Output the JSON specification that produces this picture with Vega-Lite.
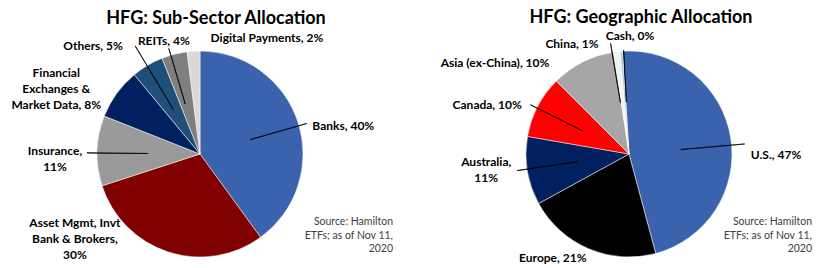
{
  "$schema": "https://vega.github.io/schema/vega-lite/v6.json",
  "padding": {"top": 8, "left": 0, "right": 0, "bottom": 0},
  "background": "white",
  "config": {"view": {"stroke": null}, "font": "Lato", "concat": {"spacing": 34},
    "text": {"fontWeight": "bold", "fontSize": 12, "lineBreak": "\n", "lineHeight": 16, "align": "center", "baseline": "middle", "color": "#000"}},
  "resolve": {"scale": {"color": "independent", "theta": "independent"}},
  "datasets": {
    "sector": [
      {"k": "Banks", "label": "Banks, 40%", "v": 40, "o": 1},
      {"k": "Asset Mgmt", "label": "Asset Mgmt, Invt\nBank & Brokers,\n30%", "v": 30, "o": 2},
      {"k": "Insurance", "label": "Insurance,\n11%", "v": 11, "o": 3},
      {"k": "Financial Exchanges", "label": "Financial\nExchanges &\nMarket Data, 8%", "v": 8, "o": 4},
      {"k": "Others", "label": "Others, 5%", "v": 5, "o": 5},
      {"k": "REITs", "label": "REITs, 4%", "v": 4, "o": 6},
      {"k": "Digital Payments", "label": "Digital Payments, 2%", "v": 2, "o": 7}
    ],
    "geo": [
      {"k": "U.S.", "label": "U.S., 47%", "v": 46.8, "o": 1},
      {"k": "Europe", "label": "Europe, 21%", "v": 21.2, "o": 2},
      {"k": "Australia", "label": "Australia,\n11%", "v": 10.7, "o": 3},
      {"k": "Canada", "label": "Canada, 10%", "v": 9.8, "o": 4},
      {"k": "Asia (ex-China)", "label": "Asia (ex-China), 10%", "v": 10.1, "o": 5},
      {"k": "China", "label": "China, 1%", "v": 1.0, "o": 6},
      {"k": "Cash", "label": "Cash, 0%", "v": 0.4, "o": 7}
    ]
  },
  "hconcat": [
    {
      "title": {"text": "HFG: Sub-Sector Allocation", "fontSize": 18, "fontWeight": "bold", "color": "#000", "anchor": "middle", "dx": 16, "offset": 3.5},
      "vconcat": [
        {
          "width": 400,
          "height": 206,
          "data": {"name": "sector"},
          "transform": [{"stack": "v", "groupby": [], "sort": [{"field": "o", "order": "ascending"}], "as": ["v0", "v1"]}],
          "title": {"text": ["Source: Hamilton", "ETFs; as of Nov 11,", "2020"], "orient": "bottom", "anchor": "end", "align": "right", "frame": "group", "fontSize": 10.5, "fontWeight": "normal", "color": "#404040", "offset": -44, "dx": -7, "lineHeight": 13.5},
          "encoding": {
            "theta": {"field": "v0", "type": "quantitative", "scale": {"domain": [0, 100]}}
          },
          "layer": [
            {"mark": {"type": "arc", "outerRadius": 103, "stroke": "#ffffff", "strokeWidth": 0.5},
             "encoding": {"theta2": {"field": "v1"},
               "color": {"field": "k", "type": "nominal", "legend": null,
                 "scale": {"domain": ["Banks", "Asset Mgmt", "Insurance", "Financial Exchanges", "Others", "REITs", "Digital Payments"],
                           "range": ["#3B62AD", "#800000", "#9A9A9A", "#002060", "#1F4E79", "#7F7F7F", "#D9D9D9"]}}}},
            {"transform": [{"filter": "datum.k === 'Banks'"}],
             "mark": {"type": "arc", "outerRadius": 111, "innerRadius": 52, "thetaOffset": 1.2915, "theta2Offset": 1.2933, "fill": "#000", "stroke": "#000", "strokeWidth": 0.7},
             "encoding": {"theta2": {"field": "v0"}}},
            {"transform": [{"filter": "datum.k === 'Insurance'"}],
             "mark": {"type": "arc", "outerRadius": 113, "innerRadius": 52, "thetaOffset": 0.3229, "theta2Offset": 0.3246, "fill": "#000", "stroke": "#000", "strokeWidth": 0.7},
             "encoding": {"theta2": {"field": "v0"}}},
            {"transform": [{"filter": "datum.k === 'Others'"}],
             "mark": {"type": "arc", "outerRadius": 126, "innerRadius": 52, "thetaOffset": 0.1501, "theta2Offset": 0.1518, "fill": "#000", "stroke": "#000", "strokeWidth": 0.7},
             "encoding": {"theta2": {"field": "v0"}}},
            {"transform": [{"filter": "datum.k === 'REITs'"}],
             "mark": {"type": "arc", "outerRadius": 110, "innerRadius": 52, "thetaOffset": 0.089, "theta2Offset": 0.0908, "fill": "#000", "stroke": "#000", "strokeWidth": 0.7},
             "encoding": {"theta2": {"field": "v0"}}},
            {"transform": [{"filter": "datum.k === 'Banks'"}],
             "mark": {"type": "text", "radius": 146, "thetaOffset": 1.377}, "encoding": {"text": {"field": "label"}}},
            {"transform": [{"filter": "datum.k === 'Asset Mgmt'"}],
             "mark": {"type": "text", "radius": 143, "thetaOffset": 1.693}, "encoding": {"text": {"field": "label"}}},
            {"transform": [{"filter": "datum.k === 'Insurance'"}],
             "mark": {"type": "text", "radius": 145, "thetaOffset": 0.335}, "encoding": {"text": {"field": "label"}}},
            {"transform": [{"filter": "datum.k === 'Financial Exchanges'"}],
             "mark": {"type": "text", "radius": 165, "thetaOffset": 0.136}, "encoding": {"text": {"field": "label"}}},
            {"transform": [{"filter": "datum.k === 'Others'"}],
             "mark": {"type": "text", "radius": 152, "thetaOffset": -0.089}, "encoding": {"text": {"field": "label"}}},
            {"transform": [{"filter": "datum.k === 'REITs'"}],
             "mark": {"type": "text", "radius": 119, "thetaOffset": 0.068}, "encoding": {"text": {"field": "label"}}},
            {"transform": [{"filter": "datum.k === 'Digital Payments'"}],
             "mark": {"type": "text", "radius": 134, "thetaOffset": 0.649}, "encoding": {"text": {"field": "label"}}}
          ]
        }
      ]
    },
    {
      "title": {"text": "HFG: Geographic Allocation", "fontSize": 18, "fontWeight": "bold", "color": "#000", "anchor": "middle", "dx": 12, "offset": 3.5},
      "vconcat": [
        {
          "width": 390,
          "height": 206,
          "data": {"name": "geo"},
          "transform": [{"stack": "v", "groupby": [], "sort": [{"field": "o", "order": "ascending"}], "as": ["v0", "v1"]}],
          "title": {"text": ["Source: Hamilton", "ETFs; as of Nov 11,", "2020"], "orient": "bottom", "anchor": "end", "align": "right", "frame": "group", "fontSize": 10.5, "fontWeight": "normal", "color": "#404040", "offset": -47, "dx": -12, "lineHeight": 13.5},
          "encoding": {
            "theta": {"field": "v0", "type": "quantitative", "scale": {"domain": [0, 100], "range": [-0.0611, 6.2221]}}
          },
          "layer": [
            {"mark": {"type": "arc", "outerRadius": 103, "stroke": "#ffffff", "strokeWidth": 0.5},
             "encoding": {"theta2": {"field": "v1"},
               "color": {"field": "k", "type": "nominal", "legend": null,
                 "scale": {"domain": ["U.S.", "Europe", "Australia", "Canada", "Asia (ex-China)", "China", "Cash"],
                           "range": ["#3B62AD", "#000000", "#002060", "#FF0000", "#A6A6A6", "#F2F2F2", "#B4C7E7"]}}}},
            {"transform": [{"filter": "datum.k === 'U.S.'"}],
             "mark": {"type": "arc", "outerRadius": 116, "innerRadius": 52, "thetaOffset": 1.5446, "theta2Offset": 1.5464, "fill": "#000", "stroke": "#000", "strokeWidth": 0.7},
             "encoding": {"theta2": {"field": "v0"}}},
            {"transform": [{"filter": "datum.k === 'Australia'"}],
             "mark": {"type": "arc", "outerRadius": 113, "innerRadius": 52, "thetaOffset": 0.3526, "theta2Offset": 0.3543, "fill": "#000", "stroke": "#000", "strokeWidth": 0.7},
             "encoding": {"theta2": {"field": "v0"}}},
            {"transform": [{"filter": "datum.k === 'Canada'"}],
             "mark": {"type": "arc", "outerRadius": 110, "innerRadius": 52, "thetaOffset": 0.2911, "theta2Offset": 0.2929, "fill": "#000", "stroke": "#000", "strokeWidth": 0.7},
             "encoding": {"theta2": {"field": "v0"}}},
            {"transform": [{"filter": "datum.k === 'China'"}],
             "mark": {"type": "arc", "outerRadius": 112, "innerRadius": 52, "thetaOffset": -0.0168, "theta2Offset": -0.015, "fill": "#000", "stroke": "#000", "strokeWidth": 0.7},
             "encoding": {"theta2": {"field": "v0"}}},
            {"transform": [{"filter": "datum.k === 'Cash'"}],
             "mark": {"type": "arc", "outerRadius": 104, "innerRadius": 52, "thetaOffset": 0.0339, "theta2Offset": 0.0356, "fill": "#000", "stroke": "#000", "strokeWidth": 0.7},
             "encoding": {"theta2": {"field": "v0"}}},
            {"transform": [{"filter": "datum.k === 'U.S.'"}],
             "mark": {"type": "text", "radius": 147, "thetaOffset": 1.639}, "encoding": {"text": {"field": "label"}}},
            {"transform": [{"filter": "datum.k === 'Europe'"}],
             "mark": {"type": "text", "radius": 129, "thetaOffset": 0.894}, "encoding": {"text": {"field": "label"}}},
            {"transform": [{"filter": "datum.k === 'Australia'"}],
             "mark": {"type": "text", "radius": 143, "thetaOffset": 0.445}, "encoding": {"text": {"field": "label"}}},
            {"transform": [{"filter": "datum.k === 'Canada'"}],
             "mark": {"type": "text", "radius": 150, "thetaOffset": 0.161}, "encoding": {"text": {"field": "label"}}},
            {"transform": [{"filter": "datum.k === 'Asia (ex-China)'"}],
             "mark": {"type": "text", "radius": 162, "thetaOffset": -0.19}, "encoding": {"text": {"field": "label"}}},
            {"transform": [{"filter": "datum.k === 'China'"}],
             "mark": {"type": "text", "radius": 124, "thetaOffset": -0.329}, "encoding": {"text": {"field": "label"}}},
            {"transform": [{"filter": "datum.k === 'Cash'"}],
             "mark": {"type": "text", "radius": 118, "thetaOffset": 0.095}, "encoding": {"text": {"field": "label"}}}
          ]
        }
      ]
    }
  ]
}
